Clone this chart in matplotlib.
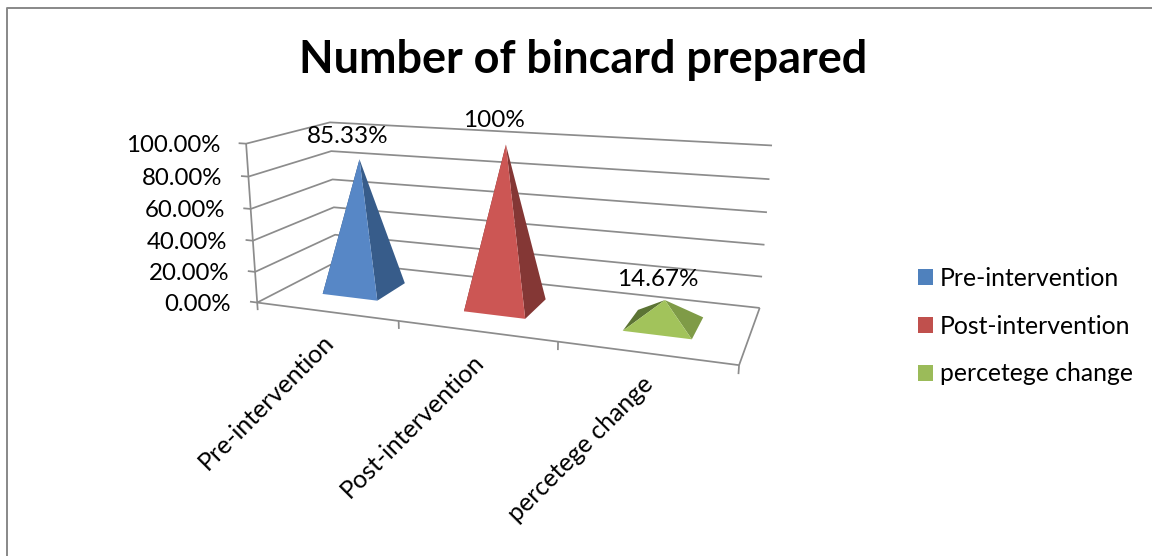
import numpy as np
import matplotlib
matplotlib.use("Agg")
import matplotlib.pyplot as plt
from matplotlib.patches import Patch, Polygon

plt.rcParams['font.family'] = ['Lato', 'DejaVu Sans']

# data
categories = ["Pre-intervention", "Post-intervention", "percetege change"]
values = [85.33, 100, 14.67]
value_labels = ["85.33%", "100%", "14.67%"]
y_ticks = [0, 20, 40, 60, 80, 100]
y_tick_labels = ["0.00%", "20.00%", "40.00%", "60.00%", "80.00%", "100.00%"]
title = "Number of bincard prepared"

front_colors = ["#5787C6", "#CC5654", "#A2C35B"]
side_colors = ["#375C8A", "#843735", "#7F9B47"]
back_colors = ["#2F4E75", "#6E2D2B", "#5C7434"]
legend_colors = ["#4F81BD", "#C0504D", "#9BBB59"]
GRID = "#8C8C8C"

# label offset from the apex, pixels
label_dx = [-12, -12, -7]
label_dy = [-23, -24, -21]

# where the chart box corners land on the image: (u, v, z) -> pixel
cam_pts = [
    (0, 0, 0, 258, 302), (0, 0, 1, 246, 143),
    (0, 1, 0, 336, 262), (0, 1, 1, 330, 122.5),
    (1, 1, 0, 760, 307), (1, 1, 1, 772, 146),
    (1, 0, 0, 739, 365),
    (1 / 3, 0, 0, 398, 322), (2 / 3, 0, 0, 558, 342),
]

# solve the 3x4 camera matrix
rows = []
for u, v, z, px, py in cam_pts:
    rows.append([u, v, z, 1, 0, 0, 0, 0, -px * u, -px * v, -px * z, -px])
    rows.append([0, 0, 0, 0, u, v, z, 1, -py * u, -py * v, -py * z, -py])
P = np.linalg.svd(np.array(rows))[2][-1].reshape(3, 4)


def proj(u, v, z):
    x = P @ np.array([u, v, z, 1.0])
    return x[0] / x[2], x[1] / x[2]


fig = plt.figure(figsize=(11.52, 5.56), dpi=100)
ax = fig.add_axes([0, 0, 1, 1])
ax.set_xlim(0, 1152)
ax.set_ylim(556, 0)
ax.axis("off")


def line(pts, lw=1.25, z=1):
    xy = np.array([proj(*p) for p in pts])
    ax.plot(xy[:, 0], xy[:, 1], color=GRID, lw=lw, zorder=z, solid_capstyle="butt")


# outer border of the chart area
ax.plot([6.5, 6.5, 1152], [556, 7.5, 7.5], color="#888888", lw=1.4, zorder=1)

# walls and gridlines
for t in y_ticks:
    z = t / 100
    line([(-0.018, 0, z), (0, 0, z), (0, 1, z), (1, 1, z)])
line([(0, 0, 0), (0, 0, 1)])
line([(0, 0, 0), (1, 0, 0), (1, 1, 0)])
for i in range(len(categories) + 1):
    line([(i / 3, 0, 0), (i / 3, 0, -0.05)])

# y tick labels
for t, lab in zip(y_ticks, y_tick_labels):
    px, py = proj(0, 0, t / 100)
    ax.text(px - 26, py + 2, lab, ha="right", va="center", fontsize=17.3, color="black")

# pyramids
half_u = 0.4 / 3 / 2
half_v = 0.2
for i, val in enumerate(values):
    uc = (i + 0.5) / 3
    h = val / 100
    fl = proj(uc - half_u, 0.5 - half_v, 0)
    fr = proj(uc + half_u, 0.5 - half_v, 0)
    br = proj(uc + half_u, 0.5 + half_v, 0)
    bl = proj(uc - half_u, 0.5 + half_v, 0)
    apex = proj(uc, 0.5, h)
    ax.add_patch(Polygon([fl, bl, apex], closed=True, fc=back_colors[i], ec="none", zorder=3))
    ax.add_patch(Polygon([fr, br, apex], closed=True, fc=side_colors[i], ec="none", zorder=4))
    ax.add_patch(Polygon([fl, fr, apex], closed=True, fc=front_colors[i], ec="none", zorder=5))
    ax.text(apex[0] + label_dx[i], apex[1] + label_dy[i], value_labels[i], ha="center", va="center",
            fontsize=17.5, color="black", zorder=6)

# rotated category labels
for i, cat in enumerate(categories):
    px, py = proj((i + 0.5) / 3, 0, 0)
    ax.text(px - 4, py + 19, cat, rotation=45, ha="right", va="top",
            rotation_mode="anchor", fontsize=18, color="black")

ax.text(583, 60, title, ha="center", va="center", fontsize=32.4, fontweight="bold", color="black")

# legend
handles = [Patch(fc=c, ec="none") for c in legend_colors]
ax.legend(handles, categories, loc="center left", bbox_to_anchor=(918, 326),
          bbox_transform=ax.transData, frameon=False, fontsize=17.8,
          handlelength=0.6, handleheight=0.6, handletextpad=0.3,
          labelspacing=1.01, borderpad=0, borderaxespad=0)

fig.savefig("out.png", dpi=100)
